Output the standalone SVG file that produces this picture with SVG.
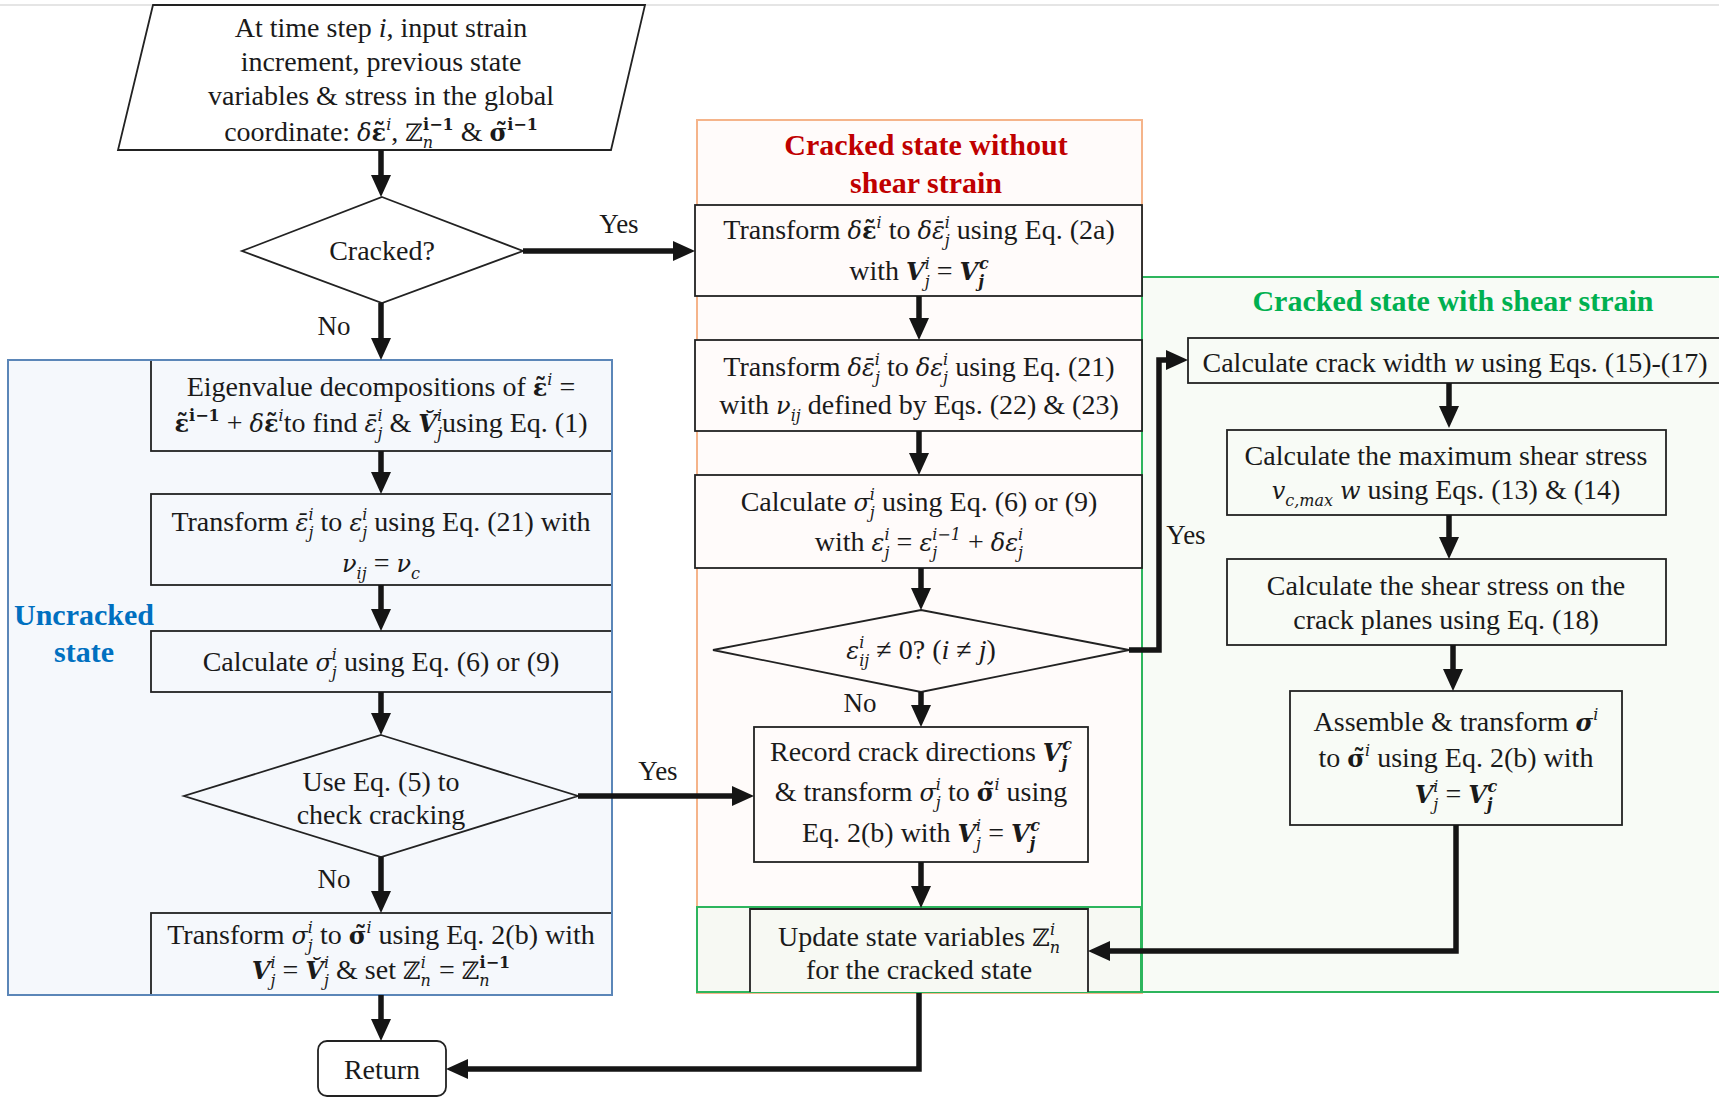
<svg xmlns="http://www.w3.org/2000/svg" width="1719" height="1098" viewBox="0 0 1719 1098">
<defs>
<style>
text{font-family:"Liberation Serif","DejaVu Serif",serif;font-size:28px;fill:#1a1a1a;text-anchor:middle}
.m{font-family:"DejaVu Serif","Liberation Serif",serif;font-size:24px}
.s{font-size:16px}
.i{font-style:italic}
.b{font-weight:bold}
.bi{font-weight:bold;font-style:italic}
.box{stroke:#222;stroke-width:1.8}
.conn path{fill:none;stroke:#151515;stroke-width:5.5;marker-end:url(#ah)}
.ttl{font-weight:bold;font-size:30px}
.lbl{font-size:27px}
</style>
<marker id="ah" markerUnits="userSpaceOnUse" markerWidth="22" markerHeight="20" viewBox="0 0 22 20" refX="12" refY="10" orient="auto"><path d="M0,0 L22,10 L0,20 z" fill="#151515"/></marker>
</defs>
<rect width="1719" height="1098" fill="#fff"/>
<line x1="0" y1="5" x2="1719" y2="5" stroke="#dcdcdc" stroke-width="1.5"/>

<g id="region-uncracked"><rect x="8" y="360" width="604" height="635" fill="#f5f8fc"/></g>
<g id="region-cracked-no-shear"><rect x="697" y="120" width="445" height="873" fill="#fffbfa" stroke="#f5b48a" stroke-width="2"/></g>
<g id="region-cracked-shear"><rect x="1142" y="277" width="590" height="715" fill="#f8fbf6" stroke="#2db55d" stroke-width="2"/></g>
<g id="region-update"><rect x="697" y="907" width="444" height="85" fill="#f7f9f3" stroke="#2db55d" stroke-width="2"/></g>

<g id="n-input"><polygon class="box" points="153,5 645,5 611,150 118,150" fill="#fff"/>
<text x="381" y="37">At time step <tspan class="i">i</tspan>, input strain</text>
<text x="381" y="71">increment, previous state</text>
<text x="381" y="105">variables &amp; stress in the global</text>
<text x="381" y="141">coordinate: <tspan class="m i">δ</tspan><tspan class="m b">ε̃</tspan><tspan class="m i s" dy="-11">i</tspan><tspan dy="11">, </tspan><tspan class="m">ℤ</tspan><tspan class="m i s" dy="7">n</tspan><tspan class="m b s" dx="-10" dy="-18">i−1</tspan><tspan dy="11"> &amp; </tspan><tspan class="m b">σ̃</tspan><tspan class="m b s" dy="-11">i−1</tspan></text>
</g>

<g id="n-cracked"><polygon class="box" points="382,197 523,251 382,303 242,251" fill="#fff"/>
<text x="382" y="260">Cracked?</text></g>

<g id="n-eigen"><rect class="box" x="151" y="360" width="461" height="91" fill="#f5f8fc"/>
<text x="381" y="396">Eigenvalue decompositions of <tspan class="m b">ε̃</tspan><tspan class="m i s" dy="-11">i</tspan><tspan dy="11"> =</tspan></text>
<text x="381" y="432"><tspan class="m b">ε̃</tspan><tspan class="m b s" dy="-11">i−1</tspan><tspan dy="11"> + </tspan><tspan class="m i">δ</tspan><tspan class="m b">ε̃</tspan><tspan class="m i s" dy="-11">i</tspan><tspan dy="11">to find </tspan><tspan class="m i">ε̄</tspan><tspan class="m i s" dy="7">j</tspan><tspan class="m i s" dx="-5" dy="-18">i</tspan><tspan dy="11"> &amp; </tspan><tspan class="m bi">V̆</tspan><tspan class="m i s" dy="7">j</tspan><tspan class="m i s" dx="-5" dy="-18">i</tspan><tspan dy="11">using Eq. (1)</tspan></text>
</g>

<g id="n-transform-u"><rect class="box" x="151" y="494" width="461" height="91" fill="#f5f8fc"/>
<text x="381" y="531">Transform <tspan class="m i">ε̄</tspan><tspan class="m i s" dy="7">j</tspan><tspan class="m i s" dx="-5" dy="-18">i</tspan><tspan dy="11"> to </tspan><tspan class="m i">ε</tspan><tspan class="m i s" dy="7">j</tspan><tspan class="m i s" dx="-5" dy="-18">i</tspan><tspan dy="11"> using Eq. (21) with</tspan></text>
<text x="381" y="572"><tspan class="m i">ν</tspan><tspan class="m i s" dy="7">ij</tspan><tspan dy="-7"> = </tspan><tspan class="m i">ν</tspan><tspan class="m i s" dy="7">c</tspan></text>
</g>

<g id="n-calc-u"><rect class="box" x="151" y="631" width="461" height="61" fill="#f5f8fc"/>
<text x="381" y="671">Calculate <tspan class="m i">σ</tspan><tspan class="m i s" dy="7">j</tspan><tspan class="m i s" dx="-5" dy="-18">i</tspan><tspan dy="11"> using Eq. (6) or (9)</tspan></text>
</g>

<g id="n-check"><polygon class="box" points="381,735 578,796 381,857 184,796" fill="#f5f8fc"/>
<text x="381" y="791">Use Eq. (5) to</text>
<text x="381" y="824">check cracking</text></g>

<g id="n-transform-sigma-u"><rect class="box" x="151" y="913" width="461" height="82" fill="#f5f8fc"/>
<text x="381" y="944">Transform <tspan class="m i">σ</tspan><tspan class="m i s" dy="7">j</tspan><tspan class="m i s" dx="-5" dy="-18">i</tspan><tspan dy="11"> to </tspan><tspan class="m b">σ̃</tspan><tspan class="m i s" dy="-11">i</tspan><tspan dy="11"> using Eq. 2(b) with</tspan></text>
<text x="381" y="979"><tspan class="m bi">V</tspan><tspan class="m i s" dy="7">j</tspan><tspan class="m i s" dx="-5" dy="-18">i</tspan><tspan dy="11"> = </tspan><tspan class="m bi">V̆</tspan><tspan class="m i s" dy="7">j</tspan><tspan class="m i s" dx="-5" dy="-18">i</tspan><tspan dy="11"> &amp; set </tspan><tspan class="m">ℤ</tspan><tspan class="m i s" dy="7">n</tspan><tspan class="m i s" dx="-10" dy="-18">i</tspan><tspan dx="6" dy="11"> = </tspan><tspan class="m">ℤ</tspan><tspan class="m i s" dy="7">n</tspan><tspan class="m b s" dx="-10" dy="-18">i−1</tspan></text>
</g>
<rect x="8" y="360" width="604" height="635" fill="none" stroke="#5b86b8" stroke-width="2"/>
<text class="ttl" x="84" y="625" style="fill:#0070c0">Uncracked</text>
<text class="ttl" x="84" y="662" style="fill:#0070c0">state</text>

<g id="n-return"><rect class="box" x="318" y="1041" width="128" height="55" rx="9" fill="#fff"/>
<text x="382" y="1079">Return</text></g>

<text class="ttl" x="926" y="155" style="fill:#c00000">Cracked state without</text>
<text class="ttl" x="926" y="193" style="fill:#c00000">shear strain</text>

<g id="n-transform-a"><rect class="box" x="695" y="205" width="447" height="91" fill="#fffbfa"/>
<text x="919" y="239">Transform <tspan class="m i">δ</tspan><tspan class="m b">ε̃</tspan><tspan class="m i s" dy="-11">i</tspan><tspan dy="11"> to </tspan><tspan class="m i">δε̄</tspan><tspan class="m i s" dy="7">j</tspan><tspan class="m i s" dx="-5" dy="-18">i</tspan><tspan dy="11"> using Eq. (2a)</tspan></text>
<text x="919" y="280">with <tspan class="m bi">V</tspan><tspan class="m i s" dy="7">j</tspan><tspan class="m i s" dx="-5" dy="-18">i</tspan><tspan dy="11"> = </tspan><tspan class="m bi">V</tspan><tspan class="m bi s" dy="7">j</tspan><tspan class="m bi s" dx="-5" dy="-18">c</tspan></text>
</g>

<g id="n-transform-b"><rect class="box" x="695" y="340" width="447" height="91" fill="#fffbfa"/>
<text x="919" y="376">Transform <tspan class="m i">δε̄</tspan><tspan class="m i s" dy="7">j</tspan><tspan class="m i s" dx="-5" dy="-18">i</tspan><tspan dy="11"> to </tspan><tspan class="m i">δε</tspan><tspan class="m i s" dy="7">j</tspan><tspan class="m i s" dx="-5" dy="-18">i</tspan><tspan dy="11"> using Eq. (21)</tspan></text>
<text x="919" y="414">with <tspan class="m i">ν</tspan><tspan class="m i s" dy="7">ij</tspan><tspan dy="-7"> defined by Eqs. (22) &amp; (23)</tspan></text>
</g>

<g id="n-calc-c"><rect class="box" x="695" y="475" width="447" height="93" fill="#fffbfa"/>
<text x="919" y="511">Calculate <tspan class="m i">σ</tspan><tspan class="m i s" dy="7">j</tspan><tspan class="m i s" dx="-5" dy="-18">i</tspan><tspan dy="11"> using Eq. (6) or (9)</tspan></text>
<text x="919" y="551">with <tspan class="m i">ε</tspan><tspan class="m i s" dy="7">j</tspan><tspan class="m i s" dx="-5" dy="-18">i</tspan><tspan dy="11"> = </tspan><tspan class="m i">ε</tspan><tspan class="m i s" dy="7">j</tspan><tspan class="m i s" dx="-5" dy="-18">i−1</tspan><tspan dy="11"> + </tspan><tspan class="m i">δε</tspan><tspan class="m i s" dy="7">j</tspan><tspan class="m i s" dx="-5" dy="-18">i</tspan></text>
</g>

<g id="n-shear-check"><polygon class="box" points="921,610 1129,650 921,692 713,650" fill="#fffbfa"/>
<text x="921" y="659"><tspan class="m i">ε</tspan><tspan class="m i s" dy="7">ij</tspan><tspan class="m i s" dx="-10" dy="-18">i</tspan><tspan dx="5" dy="11"> ≠ 0? (</tspan><tspan class="i">i</tspan><tspan> ≠ </tspan><tspan class="i">j</tspan><tspan>)</tspan></text>
</g>

<g id="n-record"><rect class="box" x="754" y="727" width="334" height="135" fill="#fffbfa"/>
<text x="921" y="761">Record crack directions <tspan class="m bi">V</tspan><tspan class="m bi s" dy="7">j</tspan><tspan class="m bi s" dx="-5" dy="-18">c</tspan></text>
<text x="921" y="801">&amp; transform <tspan class="m i">σ</tspan><tspan class="m i s" dy="7">j</tspan><tspan class="m i s" dx="-5" dy="-18">i</tspan><tspan dy="11"> to </tspan><tspan class="m b">σ̃</tspan><tspan class="m i s" dy="-11">i</tspan><tspan dy="11"> using</tspan></text>
<text x="921" y="842">Eq. 2(b) with <tspan class="m bi">V</tspan><tspan class="m i s" dy="7">j</tspan><tspan class="m i s" dx="-5" dy="-18">i</tspan><tspan dy="11"> = </tspan><tspan class="m bi">V</tspan><tspan class="m bi s" dy="7">j</tspan><tspan class="m bi s" dx="-5" dy="-18">c</tspan></text>
</g>

<g id="n-update"><path class="box" d="M750,992 V909 H1088 V992" fill="#f7f9f3"/>
<text x="919" y="946">Update state variables <tspan class="m">ℤ</tspan><tspan class="m i s" dy="7">n</tspan><tspan class="m i s" dx="-10" dy="-18">i</tspan></text>
<text x="919" y="979">for the cracked state</text>
</g>

<text class="ttl" x="1453" y="311" style="fill:#00b050">Cracked state with shear strain</text>

<g id="n-crack-width"><rect class="box" x="1188" y="338" width="545" height="45" fill="#f8fbf6"/>
<text x="1455" y="372">Calculate crack width <tspan class="m i">w</tspan> using Eqs. (15)-(17)</text></g>

<g id="n-max-shear"><rect class="box" x="1227" y="430" width="439" height="85" fill="#f8fbf6"/>
<text x="1446" y="465">Calculate the maximum shear stress</text>
<text x="1446" y="499"><tspan class="m i">v</tspan><tspan class="m i s" dy="7">c,max</tspan><tspan dy="-7"> </tspan><tspan class="m i">w</tspan><tspan> using Eqs. (13) &amp; (14)</tspan></text></g>

<g id="n-shear-stress"><rect class="box" x="1227" y="559" width="439" height="86" fill="#f8fbf6"/>
<text x="1446" y="595">Calculate the shear stress on the</text>
<text x="1446" y="629">crack planes using Eq. (18)</text></g>

<g id="n-assemble"><rect class="box" x="1290" y="691" width="332" height="134" fill="#f8fbf6"/>
<text x="1456" y="731">Assemble &amp; transform <tspan class="m bi">σ</tspan><tspan class="m i s" dy="-11">i</tspan></text>
<text x="1456" y="767">to <tspan class="m b">σ̃</tspan><tspan class="m i s" dy="-11">i</tspan><tspan dy="11"> using Eq. 2(b) with</tspan></text>
<text x="1456" y="803"><tspan class="m bi">V</tspan><tspan class="m i s" dy="7">j</tspan><tspan class="m i s" dx="-5" dy="-18">i</tspan><tspan dy="11"> = </tspan><tspan class="m bi">V</tspan><tspan class="m bi s" dy="7">j</tspan><tspan class="m bi s" dx="-5" dy="-18">c</tspan></text></g>

<g id="connectors" class="conn">
<path d="M381,150 V187"/>
<path d="M523,251 H685"/>
<path d="M381,303 V350"/>
<path d="M381,451 V484"/>
<path d="M381,585 V621"/>
<path d="M381,692 V725"/>
<path d="M578,796 H744"/>
<path d="M381,857 V903"/>
<path d="M381,995 V1031"/>
<path d="M919,296 V330"/>
<path d="M919,431 V465"/>
<path d="M921,568 V600"/>
<path d="M921,692 V717"/>
<path d="M921,862 V898"/>
<path d="M919,993 V1069 H456"/>
<path d="M1129,650 H1159 V360 H1178"/>
<path d="M1449,383 V418"/>
<path d="M1449,515 V549"/>
<path d="M1453,645 V681"/>
<path d="M1456,825 V951 H1098"/>
</g>
<g id="labels">
<text class="lbl" x="619" y="233">Yes</text>
<text class="lbl" x="334" y="335">No</text>
<text class="lbl" x="658" y="780">Yes</text>
<text class="lbl" x="334" y="888">No</text>
<text class="lbl" x="860" y="712">No</text>
<text class="lbl" x="1186" y="544">Yes</text>
</g>
</svg>
